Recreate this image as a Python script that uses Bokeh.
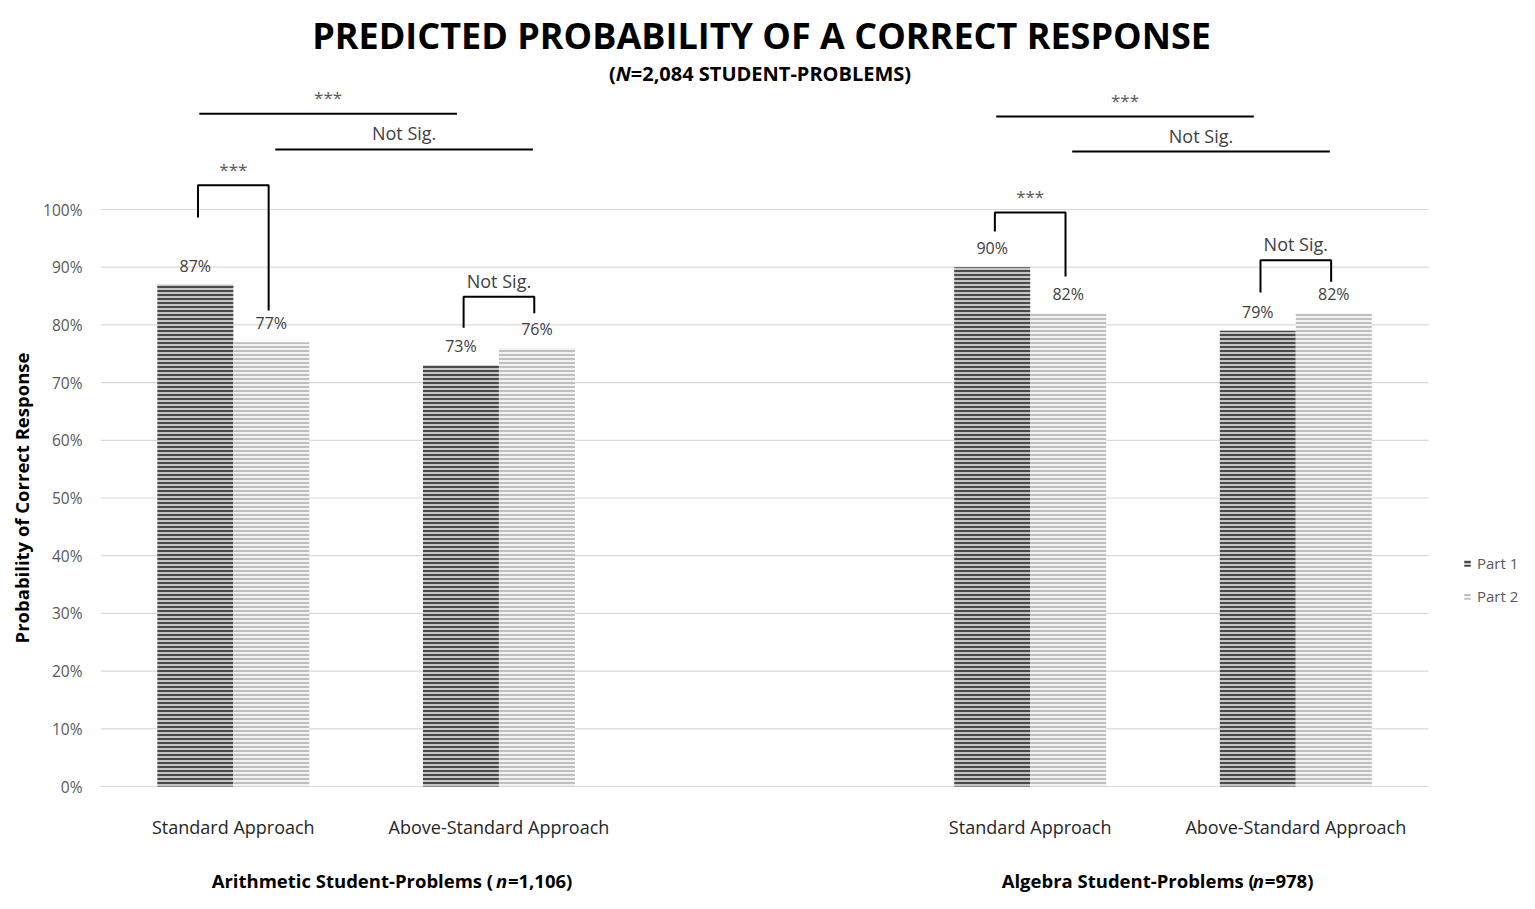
from bokeh.plotting import figure
from bokeh.layouts import row
from bokeh.models import (Range1d, FixedTicker, PrintfTickFormatter, Legend, LegendItem,
                          ColumnDataSource)
from bokeh.core.properties import value
from bokeh.embed import file_html
from bokeh.resources import INLINE

# ---------------- data ----------------
title_text = "PREDICTED PROBABILITY OF A CORRECT RESPONSE"
subtitle_pre = "("
subtitle_it = "N"
subtitle_post = "=2,084 STUDENT-PROBLEMS)"
y_label = "Probability of Correct Response"

approaches = ["Standard Approach", "Above-Standard Approach",
              "Standard Approach", "Above-Standard Approach"]
cat_slot = [0, 1, 3, 4]          # category slot (slot 2 is the blank gap)
group_pre = ["Arithmetic Student-Problems  (", "Algebra Student-Problems ("]
group_post = ["=1,106)", "=978)"]
series = ["Part 1", "Part 2"]
part1 = [87, 73, 90, 79]
part2 = [77, 76, 82, 82]
y_ticks = [0, 10, 20, 30, 40, 50, 60, 70, 80, 90, 100]

# within-category brackets (Part 1 vs Part 2): label, left-leg bottom, top, right-leg bottom
in_labels = ["***", "Not Sig.", "***", "Not Sig."]
in_left_bottom = [98.6, 79.5, 96.2, 85.6]
in_top = [104.2, 84.9, 99.5, 91.2]
in_right_bottom = [82.5, 82.0, 88.4, 87.5]

# across-approach lines within a group: label, series index, group index, level
ac_labels = ["***", "Not Sig.", "***", "Not Sig."]
ac_series = [0, 1, 0, 1]
ac_group = [0, 0, 1, 1]
ac_level = [116.6, 110.4, 116.1, 110.05]

# ---------------- layout ----------------
H = 893
LAB_W = 40
W = 1519 - LAB_W
LEFT = 98 - LAB_W
PX_X = 266.0      # px per category slot
PX_Y = 5.77       # px per percent
ZERO_Y = 786      # px from top of the 0% line
BW = 0.286
HALF = BW / 2


def sx(px):
    return (px - 98) / PX_X


def sy(py):
    return (ZERO_Y - py) / PX_Y


FONT = value("Open Sans")

yr = Range1d(-(H - ZERO_Y) / PX_Y, ZERO_Y / PX_Y)
p = figure(width=W, height=H, output_backend="svg", toolbar_location=None,
           x_range=Range1d(0, (W - LEFT) / PX_X), y_range=yr,
           min_border_left=LEFT, min_border_right=0, min_border_top=0, min_border_bottom=0,
           x_axis_location=None, outline_line_color=None)
p.xgrid.visible = False
p.ygrid.visible = False

# y axis
ya = p.yaxis[0]
ya.ticker = FixedTicker(ticks=y_ticks)
ya.formatter = PrintfTickFormatter(format="%d%%")
ya.axis_line_color = None
ya.major_tick_line_color = None
ya.minor_tick_line_color = None
ya.major_tick_out = 0
ya.major_label_standoff = 18
ya.major_label_text_font = "Open Sans"
ya.major_label_text_font_size = "15.5px"
ya.major_label_text_color = "#595959"

# gridlines
n_slots = 5
p.segment(x0=[0] * len(y_ticks), x1=[n_slots] * len(y_ticks), y0=y_ticks, y1=y_ticks,
          line_color="#d9d9d9", line_width=1.2, level="underlay")

centers = [s + 0.5 for s in cat_slot]
x1 = [c - HALF for c in centers]
x2 = [c + HALF for c in centers]

src1 = ColumnDataSource(dict(x=x1, top=part1, lab=[f"{v}%" for v in part1]))
src2 = ColumnDataSource(dict(x=x2, top=part2, lab=[f"{v}%" for v in part2]))

r1 = p.vbar(x="x", top="top", bottom=0, width=BW, source=src1,
            fill_color="#c4c4c4", line_color=None,
            hatch_pattern="horizontal_line", hatch_color="#4a4a4a",
            hatch_scale=4, hatch_weight=2)
r2 = p.vbar(x="x", top="top", bottom=0, width=BW, source=src2,
            fill_color="#f2f2f2", line_color=None,
            hatch_pattern="horizontal_line", hatch_color="#bfbfbf",
            hatch_scale=4, hatch_weight=2)

for s in (src1, src2):
    p.text(x="x", y="top", text="lab", source=s, text_align="center",
           text_baseline="middle", y_offset=-19, text_font=FONT,
           text_font_size="16px", text_color="#404040")

# within-category brackets
xs, ys = [], []
for i in range(len(centers)):
    lx, rx = x1[i] + 0.01, x2[i] - 0.01
    xs.append([lx, lx, rx, rx])
    ys.append([in_left_bottom[i], in_top[i], in_top[i], in_right_bottom[i]])
p.multi_line(xs=xs, ys=ys, line_color="black", line_width=2)


def sig_style(labels):
    return (["#595959" if t == "***" else "#404040" for t in labels],
            ["17px" if t == "***" else "18px" for t in labels])


c_in, fs_in = sig_style(in_labels)
in_src = ColumnDataSource(dict(x=[(a[0] + a[3]) / 2 for a in xs], y=in_top, t=in_labels,
                               c=c_in, fs=fs_in))
p.text(x="x", y="y", text="t", source=in_src, text_align="center", text_baseline="middle",
       y_offset=-16, text_font=FONT, text_font_size="fs", text_color="c")

# across-approach lines
axs, ays, tx = [], [], []
for k in range(len(ac_labels)):
    xs_ser = x1 if ac_series[k] == 0 else x2
    a = xs_ser[2 * ac_group[k]] + 0.015
    b = xs_ser[2 * ac_group[k] + 1] - 0.015
    axs.append([a, b])
    ays.append([ac_level[k], ac_level[k]])
    tx.append((a + b) / 2)
p.multi_line(xs=axs, ys=ays, line_color="black", line_width=2)
c_ac, fs_ac = sig_style(ac_labels)
ac_src = ColumnDataSource(dict(x=tx, y=ac_level, t=ac_labels, c=c_ac, fs=fs_ac))
p.text(x="x", y="y", text="t", source=ac_src, text_align="center", text_baseline="middle",
       y_offset=-16, text_font=FONT, text_font_size="fs", text_color="c")

# category labels
p.text(x=centers, y=[sy(826)] * 4, text=approaches, text_align="center",
       text_baseline="middle", text_font=FONT, text_font_size="18px", text_color="#262626")

# group labels with italic n
n_x = [sx(496), sx(1254)]
gy = [sy(880)] * 2
p.text(x=n_x, y=gy, text=group_pre, text_align="right", text_baseline="middle",
       text_font=FONT, text_font_size="18.5px", text_font_style="bold", text_color="black")
p.text(x=n_x, y=gy, text=["n", "n"], text_align="left", text_baseline="middle",
       x_offset=-2, text_font=FONT, text_font_size="18.5px",
       text_font_style="bold italic", text_color="black")
p.text(x=n_x, y=gy, text=group_post, text_align="left", text_baseline="middle",
       x_offset=10, text_font=FONT, text_font_size="18.5px",
       text_font_style="bold", text_color="black")

# title and subtitle
p.text(x=[sx(760)], y=[sy(35)], text=[title_text], text_align="center",
       text_baseline="middle", text_font=FONT, text_font_size="36px",
       text_font_style="bold", text_color="black")
N_x = sx(614)
p.text(x=[N_x], y=[sy(73)], text=[subtitle_pre], text_align="right", text_baseline="middle",
       text_font=FONT, text_font_size="20px", text_font_style="bold", text_color="black")
p.text(x=[N_x], y=[sy(73)], text=[subtitle_it], text_align="left", text_baseline="middle",
       text_font=FONT, text_font_size="20px", text_font_style="bold italic",
       text_color="black")
p.text(x=[N_x], y=[sy(73)], text=[subtitle_post], text_align="left", text_baseline="middle",
       x_offset=15, text_font=FONT, text_font_size="20px", text_font_style="bold",
       text_color="black")

# legend
legend = Legend(items=[LegendItem(label=series[0], renderers=[r1]),
                       LegendItem(label=series[1], renderers=[r2])],
                location=(1461 - 98, H - 606), orientation="vertical",
                glyph_width=8, glyph_height=8, label_standoff=6, label_height=20,
                spacing=13, padding=0, margin=0, border_line_color=None,
                background_fill_alpha=0, label_text_font="Open Sans",
                label_text_font_size="15px", label_text_color="#595959")
p.add_layout(legend)

# y axis title in a narrow companion figure sharing the y range
q = figure(width=LAB_W, height=H, output_backend="svg", toolbar_location=None,
           x_range=Range1d(0, LAB_W), y_range=yr,
           min_border_left=0, min_border_right=0, min_border_top=0, min_border_bottom=0,
           x_axis_location=None, y_axis_location=None, outline_line_color=None)
q.xgrid.visible = False
q.ygrid.visible = False
q.text(x=[21], y=[50], text=[y_label], angle=1.5708, text_align="center",
       text_baseline="middle", text_font=FONT, text_font_size="18.5px",
       text_font_style="bold", text_color="black")

layout = row(q, p, spacing=0)
open("out.html", "w").write(file_html(layout, INLINE))
